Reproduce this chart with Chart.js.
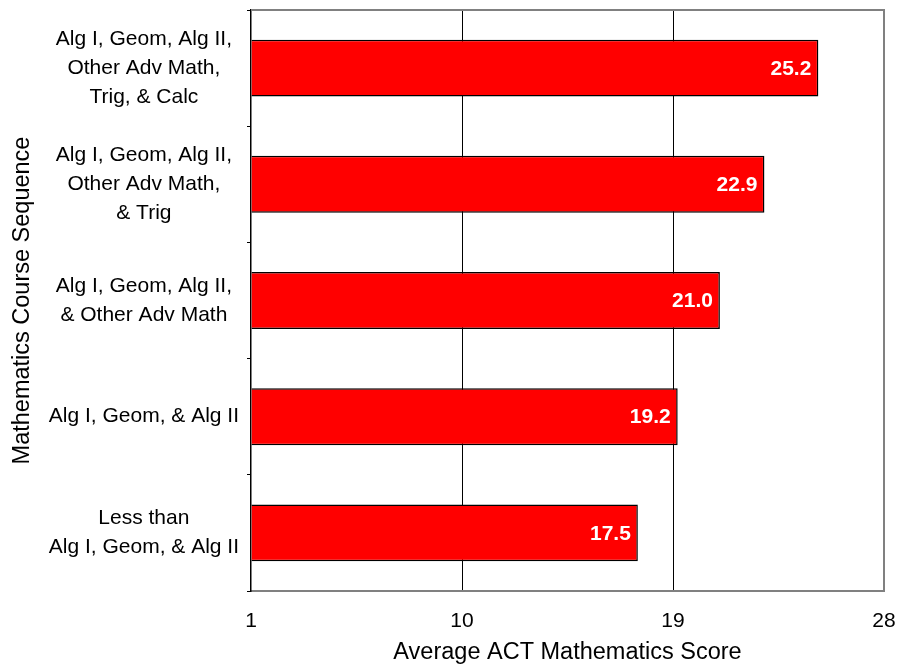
<!DOCTYPE html>
<html>
<head>
<meta charset="utf-8">
<script src="https://cdn.jsdelivr.net/npm/chart.js@4.4.1/dist/chart.umd.min.js"></script>
<style>
    body { margin: 0; background: #ffffff; }
    canvas { display: block; }
</style>
</head>
<body>
<canvas id="act_chart" width="899" height="667"></canvas>
<script>
// course sequences, top to bottom
const courseLabels = [
    ["Alg I, Geom, Alg II,", "Other Adv Math,", "Trig, & Calc"],
    ["Alg I, Geom, Alg II,", "Other Adv Math,", "& Trig"],
    ["Alg I, Geom, Alg II,", "& Other Adv Math"],
    ["Alg I, Geom, & Alg II"],
    ["Less than", "Alg I, Geom, & Alg II"],
];
const actScores = [25.2, 22.9, 21.0, 19.2, 17.5];
const scoreTicks = [1, 10, 19, 28];

const FONT = "'Liberation Sans', Arial, sans-serif";

// white score printed at the end of every bar
const barValueLabels = {
    id: "barValueLabels",
    afterDatasetsDraw(chart) {
        const ctx = chart.ctx;
        const meta = chart.getDatasetMeta(0);
        ctx.save();
        ctx.fillStyle = "#ffffff";
        ctx.font = "bold 21px " + FONT;
        ctx.textAlign = "right";
        ctx.textBaseline = "middle";
        meta.data.forEach((bar, i) => {
            ctx.fillText(actScores[i].toFixed(1), bar.x - 7, bar.y + 1);
        });
        ctx.restore();
    },
};

// gray line closing the plot frame at the top
const topFrame = {
    id: "topFrame",
    beforeDatasetsDraw(chart) {
        const { ctx, chartArea } = chart;
        ctx.save();
        ctx.strokeStyle = "#808080";
        ctx.lineWidth = 2;
        ctx.beginPath();
        ctx.moveTo(chartArea.left, chartArea.top);
        ctx.lineTo(chartArea.right + 1, chartArea.top);
        ctx.stroke();
        ctx.restore();
    },
};

new Chart(document.getElementById("act_chart"), {
    type: "bar",
    data: {
        labels: courseLabels,
        datasets: [{
            data: actScores,
            base: scoreTicks[0],
            backgroundColor: "#ff0000",
            borderColor: "#000000",
            borderWidth: 1.5,
            borderSkipped: "start",
            barPercentage: 0.49,
            categoryPercentage: 1,
        }],
    },
    options: {
        indexAxis: "y",
        responsive: false,
        animation: false,
        layout: { padding: { top: 10, right: 15, left: 0, bottom: 0 } },
        plugins: {
            legend: { display: false },
            tooltip: { enabled: false },
        },
        scales: {
            x: {
                type: "linear",
                min: scoreTicks[0],
                max: scoreTicks[scoreTicks.length - 1],
                afterBuildTicks: (scale) => {
                    scale.ticks = scoreTicks.map((v) => ({ value: v }));
                },
                afterFit: (scale) => {
                    scale.height = 76;
                    scale.paddingLeft = 0;
                    scale.paddingRight = 0;
                },
                grid: {
                    drawTicks: false,
                    color: (c) => {
                        if (c.tick.value === 28) return "#808080";
                        if (c.tick.value === 1) return "rgba(0,0,0,0)";
                        return "#000000";
                    },
                    lineWidth: (c) => (c.tick.value === 28 ? 2 : 1),
                },
                border: { color: "#808080", width: 2 },
                ticks: {
                    color: "#000000",
                    padding: 18,
                    font: { family: FONT, size: 21 },
                },
                title: {
                    display: true,
                    text: "Average ACT Mathematics Score",
                    color: "#000000",
                    padding: { top: 0, bottom: 0 },
                    font: { family: FONT, size: 23.5 },
                },
            },
            y: {
                afterFit: (scale) => {
                    scale.width = 251;
                    scale.paddingTop = 0;
                    scale.paddingBottom = 0;
                },
                grid: {
                    offset: true,
                    drawOnChartArea: false,
                    tickLength: 4,
                    color: "#000000",
                },
                border: { color: "#000000", width: 1.5 },
                ticks: {
                    color: "#000000",
                    crossAlign: "center",
                    padding: 8,
                    font: { family: FONT, size: 21, lineHeight: 1.38 },
                },
                title: {
                    display: true,
                    text: "Mathematics Course Sequence",
                    color: "#000000",
                    padding: { top: 8, bottom: 0 },
                    font: { family: FONT, size: 23.5 },
                },
            },
        },
    },
    plugins: [barValueLabels, topFrame],
});
</script>
</body>
</html>
